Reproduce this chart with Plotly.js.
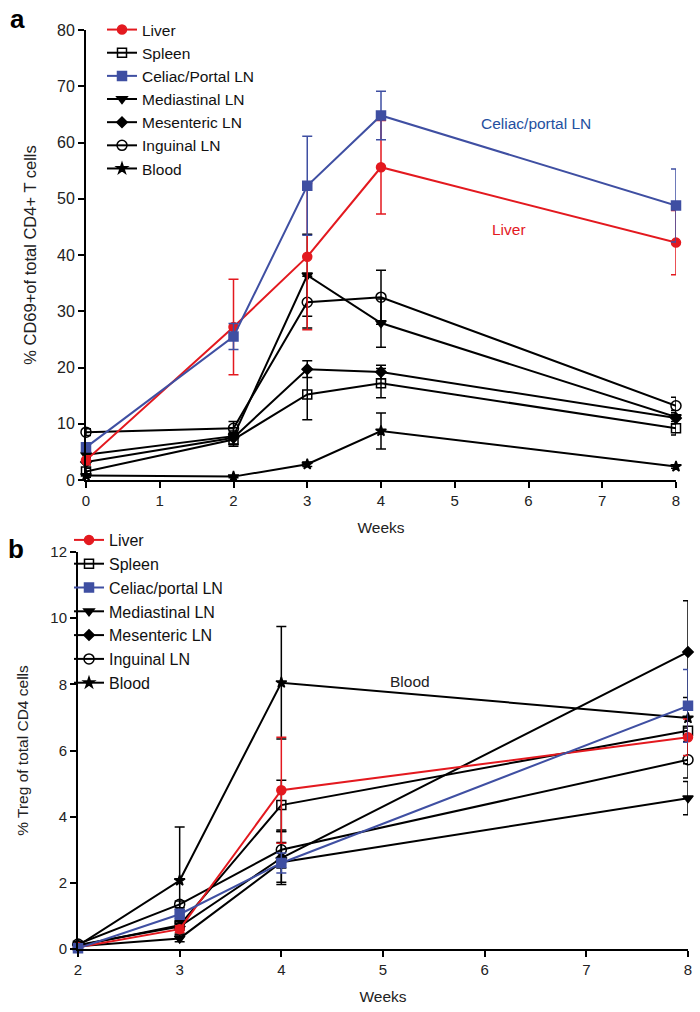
<!DOCTYPE html>
<html>
<head>
<meta charset="utf-8">
<script src="https://cdn.plot.ly/plotly-3.0.1.min.js"></script>
<style>html,body{margin:0;padding:0;background:#fff}#chart{width:700px;height:1012px}</style>
</head>
<body>
<div id="chart"></div>
<script>
// ---------- Panel a data ----------
const weeksA = [0, 2, 3, 4, 8];
const liverA = [3.5, 27.2, 39.7, 55.6, 42.2];
const liverAErr = [0.8, 8.5, 13.0, 8.3, 5.7];
const spleenA = [1.5, 7.2, 15.2, 17.2, 9.2];
const spleenAErr = [0.6, 1.2, 4.5, 2.6, 1.2];
const celiacA = [5.8, 25.5, 52.3, 64.8, 48.8];
const celiacAErr = [0.8, 2.3, 8.8, 4.3, 6.5];
const mediastinalA = [4.5, 7.8, 36.4, 27.9, 11.2];
const mediastinalAErr = [0.5, 1.5, 7.3, 4.3, 1.2];
const mesentericA = [3.2, 7.5, 19.7, 19.2, 11.0];
const mesentericAErr = [0.5, 1.2, 1.5, 1.2, 1.0];
const inguinalA = [8.5, 9.2, 31.6, 32.5, 13.2];
const inguinalAErr = [0.6, 1.2, 4.6, 4.8, 1.5];
const bloodA = [0.8, 0.6, 2.8, 8.7, 2.4];
const bloodAErr = [0.3, 0.2, 0.4, 3.2, 0.3];

// ---------- Panel b data ----------
const weeksB = [2, 3, 4, 8];
const liverB = [0.05, 0.6, 4.8, 6.4];
const liverBErr = [0.05, 0.1, 1.6, 0.55];
const spleenB = [0.1, 0.72, 4.35, 6.6];
const spleenBErr = [0.05, 0.1, 0.75, 1.0];
const celiacB = [0.02, 1.05, 2.6, 7.35];
const celiacBErr = [0.05, 0.15, 0.3, 1.1];
const mediastinalB = [0.08, 0.32, 2.62, 4.56];
const mediastinalBErr = [0.05, 0.1, 0.6, 0.5];
const mesentericB = [0.12, 0.68, 2.75, 8.98];
const mesentericBErr = [0.05, 0.1, 0.8, 1.55];
const inguinalB = [0.15, 1.35, 3.0, 5.72];
const inguinalBErr = [0.05, 0.1, 0.55, 0.55];
const bloodB = [0.1, 2.07, 8.05, 6.98];
const bloodBErr = [0.05, 1.62, 1.7, 0.3];

const namesA = ['Liver', 'Spleen', 'Celiac/Portal LN', 'Mediastinal LN', 'Mesenteric LN', 'Inguinal LN', 'Blood'];
const namesB = ['Liver', 'Spleen', 'Celiac/portal LN', 'Mediastinal LN', 'Mesenteric LN', 'Inguinal LN', 'Blood'];

const RED = '#e3191f', BLUE = '#3f4fa2', BLACK = '#000000';
const styles = [
  {color: RED, symbol: 'circle', size: 9},
  {color: BLACK, symbol: 'square-open', size: 9},
  {color: BLUE, symbol: 'square', size: 9},
  {color: BLACK, symbol: 'triangle-down', size: 9},
  {color: BLACK, symbol: 'diamond', size: 8},
  {color: BLACK, symbol: 'circle-open', size: 10},
  {color: BLACK, symbol: 'star', size: 8}
];

const seriesA = [[liverA, liverAErr], [spleenA, spleenAErr], [celiacA, celiacAErr], [mediastinalA, mediastinalAErr],
                 [mesentericA, mesentericAErr], [inguinalA, inguinalAErr], [bloodA, bloodAErr]];
const seriesB = [[liverB, liverBErr], [spleenB, spleenBErr], [celiacB, celiacBErr], [mediastinalB, mediastinalBErr],
                 [mesentericB, mesentericBErr], [inguinalB, inguinalBErr], [bloodB, bloodBErr]];

const traces = [];
const order = [1, 3, 4, 5, 6, 0, 2];
order.forEach(i => {
  const s = styles[i];
  traces.push({
    type: 'scatter', mode: 'lines+markers', name: namesA[i],
    x: weeksA, y: seriesA[i][0], xaxis: 'x', yaxis: 'y',
    legend: 'legend', legendrank: i + 1, cliponaxis: false,
    line: {color: s.color, width: 2},
    marker: {color: s.color, symbol: s.symbol, size: s.size, line: {color: s.color, width: 1.5}},
    error_y: {type: 'data', array: seriesA[i][1], visible: true, color: s.color, thickness: 1.5, width: 5}
  });
});
order.forEach(i => {
  const s = styles[i];
  traces.push({
    type: 'scatter', mode: 'lines+markers', name: namesB[i],
    x: weeksB, y: seriesB[i][0], xaxis: 'x2', yaxis: 'y2',
    legend: 'legend2', legendrank: i + 1, cliponaxis: false,
    line: {color: s.color, width: 2},
    marker: {color: s.color, symbol: s.symbol, size: s.size, line: {color: s.color, width: 1.5}},
    error_y: {type: 'data', array: seriesB[i][1], visible: true, color: s.color, thickness: 1.5, width: 5}
  });
});

const W = 700, H = 1012;
const px = v => v / W, py = v => 1 - v / H;
const FONT = 'Liberation Sans, Arial, sans-serif';

const axisCommon = {
  showline: true, linecolor: '#000', linewidth: 2, ticks: 'outside', ticklen: 6, tickwidth: 2,
  tickcolor: '#000', showgrid: false, zeroline: false, tickfont: {family: FONT, size: 15, color: '#222'}
};

const layout = {
  width: W, height: H, margin: {l: 0, r: 0, t: 0, b: 0},
  paper_bgcolor: '#fff', plot_bgcolor: '#fff',
  font: {family: FONT, color: '#222'},
  xaxis: Object.assign({}, axisCommon, {
    domain: [px(86), px(676)], range: [0, 8], dtick: 1, anchor: 'y',
    title: {text: 'Weeks', font: {family: FONT, size: 15.5, color: '#222'}, standoff: 14}
  }),
  yaxis: Object.assign({}, axisCommon, {
    domain: [py(480), py(30)], range: [0, 80], dtick: 10, anchor: 'x',
    tickfont: {family: FONT, size: 16, color: '#222'},
    title: {text: '% CD69+of total CD4+ T cells', font: {family: FONT, size: 16.5, color: '#222'}, standoff: 16}
  }),
  xaxis2: Object.assign({}, axisCommon, {
    domain: [px(78), px(688)], range: [2, 8], dtick: 1, anchor: 'y2',
    title: {text: 'Weeks', font: {family: FONT, size: 15.5, color: '#222'}, standoff: 14}
  }),
  yaxis2: Object.assign({}, axisCommon, {
    domain: [py(949), py(552)], range: [0, 12], dtick: 2, anchor: 'x2',
    tickfont: {family: FONT, size: 15, color: '#222'},
    title: {text: '% Treg of total CD4 cells', font: {family: FONT, size: 15.5, color: '#222'}, standoff: 18}
  }),
  legend: {x: px(102), y: py(13), xanchor: 'left', yanchor: 'top', bgcolor: 'rgba(0,0,0,0)',
           font: {family: FONT, size: 15.5, color: '#111'}, traceorder: 'normal', itemwidth: 30},
  legend2: {x: px(69), y: py(523), xanchor: 'left', yanchor: 'top', bgcolor: 'rgba(0,0,0,0)',
            font: {family: FONT, size: 16, color: '#111'}, traceorder: 'normal', itemwidth: 30},
  annotations: [
    {text: '<b>a</b>', xref: 'paper', yref: 'paper', x: px(8), y: py(2), xanchor: 'left', yanchor: 'top',
     showarrow: false, font: {family: FONT, size: 26, color: '#000'}},
    {text: '<b>b</b>', xref: 'paper', yref: 'paper', x: px(6), y: py(532), xanchor: 'left', yanchor: 'top',
     showarrow: false, font: {family: FONT, size: 26, color: '#000'}},
    {text: 'Celiac/portal LN', xref: 'x', yref: 'y', x: 6.1, y: 63.4, showarrow: false,
     font: {family: FONT, size: 15.5, color: '#2450a0'}},
    {text: 'Liver', xref: 'x', yref: 'y', x: 5.73, y: 44.6, showarrow: false,
     font: {family: FONT, size: 15.5, color: RED}},
    {text: 'Blood', xref: 'x2', yref: 'y2', x: 5.27, y: 8.1, showarrow: false,
     font: {family: FONT, size: 15.5, color: '#222'}}
  ]
};

Plotly.newPlot('chart', traces, layout, {displayModeBar: false, staticPlot: true});
</script>
</body>
</html>
